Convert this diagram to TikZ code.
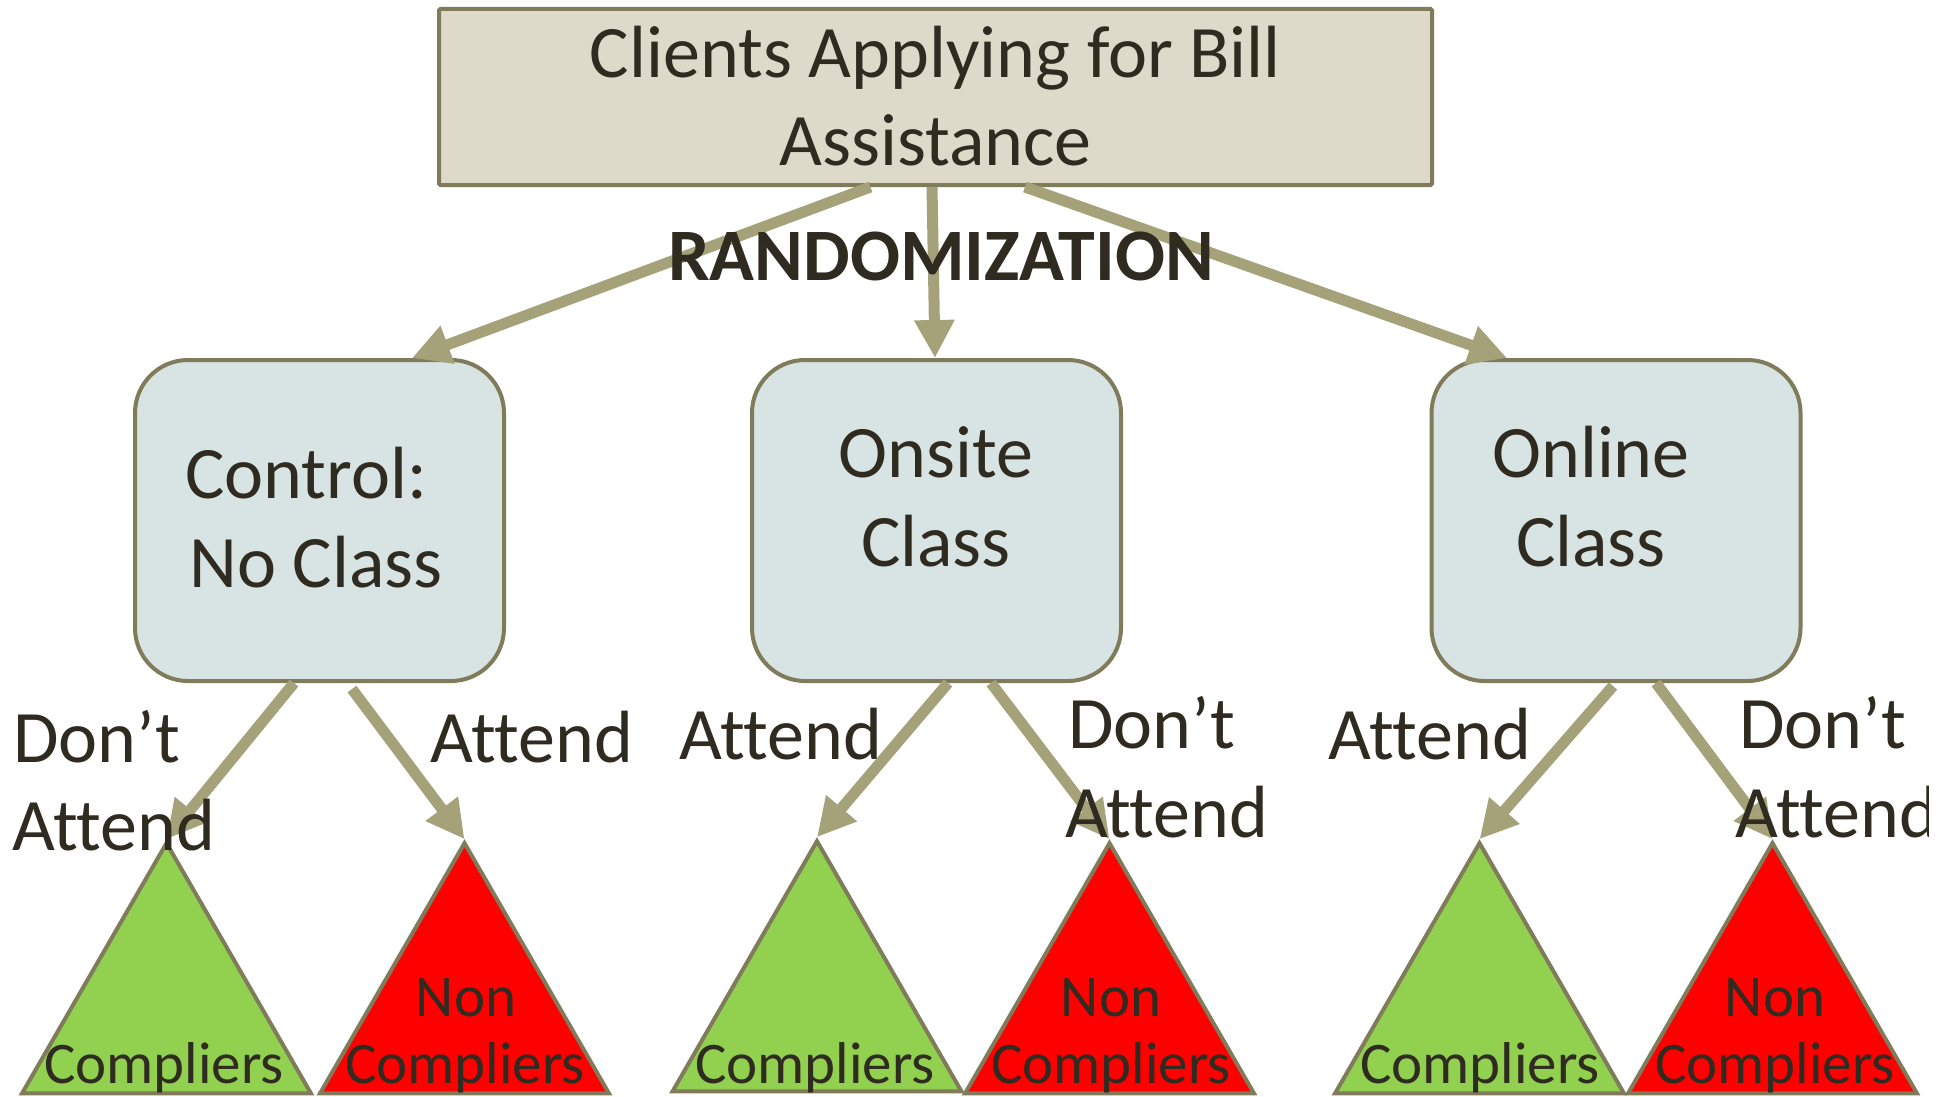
\documentclass[tikz,border=0pt]{standalone}
\usepackage{fontspec}
\setmainfont{Carlito}[Ligatures=NoCommon]
\usetikzlibrary{arrows.meta,shapes.geometric,calc}

\definecolor{edgecol}{HTML}{7F7B5B}
\definecolor{flowcol}{HTML}{A5A27A}
\definecolor{headfill}{HTML}{DDDAC9}
\definecolor{armfill}{HTML}{D8E4E3}
\definecolor{ink}{HTML}{2F2B20}
\definecolor{yesgreen}{HTML}{92D050}
\definecolor{nored}{HTML}{FF0000}

% soft slide background: white centre fading to light grey at the edges
\pgfdeclareradialshading{slideglow}{\pgfpoint{0bp}{0bp}}{%
  color(0bp)=(white); color(32bp)=(white); color(42bp)=(black!10); color(50bp)=(black!17)}

\begin{document}
\begin{tikzpicture}[x=1pt,y=-1pt,
  txt/.style={text=ink, inner sep=0pt, anchor=base},
  big/.style={txt, font=\fontsize{74}{89}\selectfont},
  side/.style={txt, font=\fontsize{74}{88}\selectfont, anchor=base west},
  small/.style={txt, font=\fontsize{59}{66}\selectfont},
  headbox/.style={draw=edgecol, line width=4pt, fill=headfill, minimum width=993pt,
    minimum height=176pt, inner sep=0pt, rounded corners=1.5pt},
  armbox/.style={draw=edgecol, line width=4pt, fill=armfill, minimum width=369pt,
    minimum height=321pt, rounded corners=53pt, inner sep=0pt},
  tri/.style={regular polygon, regular polygon sides=3, minimum size=333.7pt,
    inner sep=0pt, draw=edgecol, line width=4pt},
  flow/.style={draw=flowcol, line width=11pt, -{Triangle[length=38pt,width=38pt]}},
]
\useasboundingbox (0,0) rectangle (1948,1097);
\fill[white] (0,0) rectangle (1948,1097);
\begin{scope}
  \clip (6,0) rectangle (1928,1097);
  \shade[shading=slideglow] (800,300) circle[radius=1400pt];
\end{scope}

\begin{scope}
\clip (0,0) rectangle (1928,1097);

% boxes
\node[headbox] (clients) at (935.5,97) {};
\node[armbox] (ctrl) at (319.5,520.5) {};
\node[armbox] (onsite) at (936.5,520.5) {};
\node[armbox] (online) at (1616,520.5) {};

% outcome triangles
\node[tri, fill=yesgreen] (g1) at (166.5,1010) {};
\node[tri, fill=nored] (r1) at (464.5,1010) {};
\node[tri, fill=yesgreen] (g2) at (817,1008) {};
\node[tri, fill=nored] (r2) at (1109.5,1010) {};
\node[tri, fill=yesgreen] (g3) at (1479.5,1010) {};
\node[tri, fill=nored] (r3) at (1772.5,1010) {};

% randomization arrows
\draw[flow] ($(clients.south)+(-65,0)$) -- ($(ctrl.north)+(92.5,0)$);
\draw[flow] ($(clients.south)+(-3.5,0)$) -- ($(onsite.north)+(-1.5,0)$);
\draw[flow] ($(clients.south)+(89.5,0)$) -- ($(online.north)+(-109,0)$);

% attendance arrows
\draw[flow] ($(ctrl.south)+(-25.5,0)$) -- (g1.corner 1);
\draw[flow] ($(ctrl.south)+(32.5,6)$) -- (r1.corner 1);
\draw[flow] ($(onsite.south)+(11.5,0)$) -- (g2.corner 1);
\draw[flow] ($(onsite.south)+(54.5,0)$) -- (r2.corner 1);
\draw[flow] ($(online.south)+(-3,3)$) -- (g3.corner 1);
\draw[flow] ($(online.south)+(40,0)$) -- (r3.corner 1);

% box texts
\node[big] (t1) at (935.5,78) {Clients Applying for Bill};
\node[big] (t2) at (935.5,165) {Assistance};
\node[txt, font=\fontsize{74}{88}\selectfont\bfseries] (rand) at (941,280) {RANDOMIZATION};
\node[big] (c1) at (306,498) {Control:};
\node[big] (c2) at (316,587) {No Class};
\node[big] (o1) at (936,477) {Onsite};
\node[big] (o2) at (936,566) {Class};
\node[big] (n1) at (1591,477) {Online};
\node[big] (n2) at (1591,566) {Class};

% branch labels
\node[side] (l1a) at (13,762) {Don’t};
\node[side] (l1b) at (12,850) {Attend};
\node[side] (l2) at (430,762) {Attend};
\node[side] (l3) at (679,759) {Attend};
\node[side] (l4a) at (1068,748) {Don’t};
\node[side] (l4b) at (1065,837) {Attend};
\node[side] (l5) at (1328,759) {Attend};
\node[side] (l6a) at (1739,748) {Don’t};
\node[side] (l6b) at (1735,837) {Attend};

% triangle texts
\node[small] (k1) at (164,1083) {Compliers};
\node[small] (k2a) at (466,1016) {Non};
\node[small] (k2b) at (465,1083) {Compliers};
\node[small] (k3) at (815,1083) {Compliers};
\node[small] (k4a) at (1111,1016) {Non};
\node[small] (k4b) at (1111,1083) {Compliers};
\node[small] (k5) at (1480,1083) {Compliers};
\node[small] (k6a) at (1775,1016) {Non};
\node[small] (k6b) at (1775,1083) {Compliers};
\end{scope}
\end{tikzpicture}
\end{document}
